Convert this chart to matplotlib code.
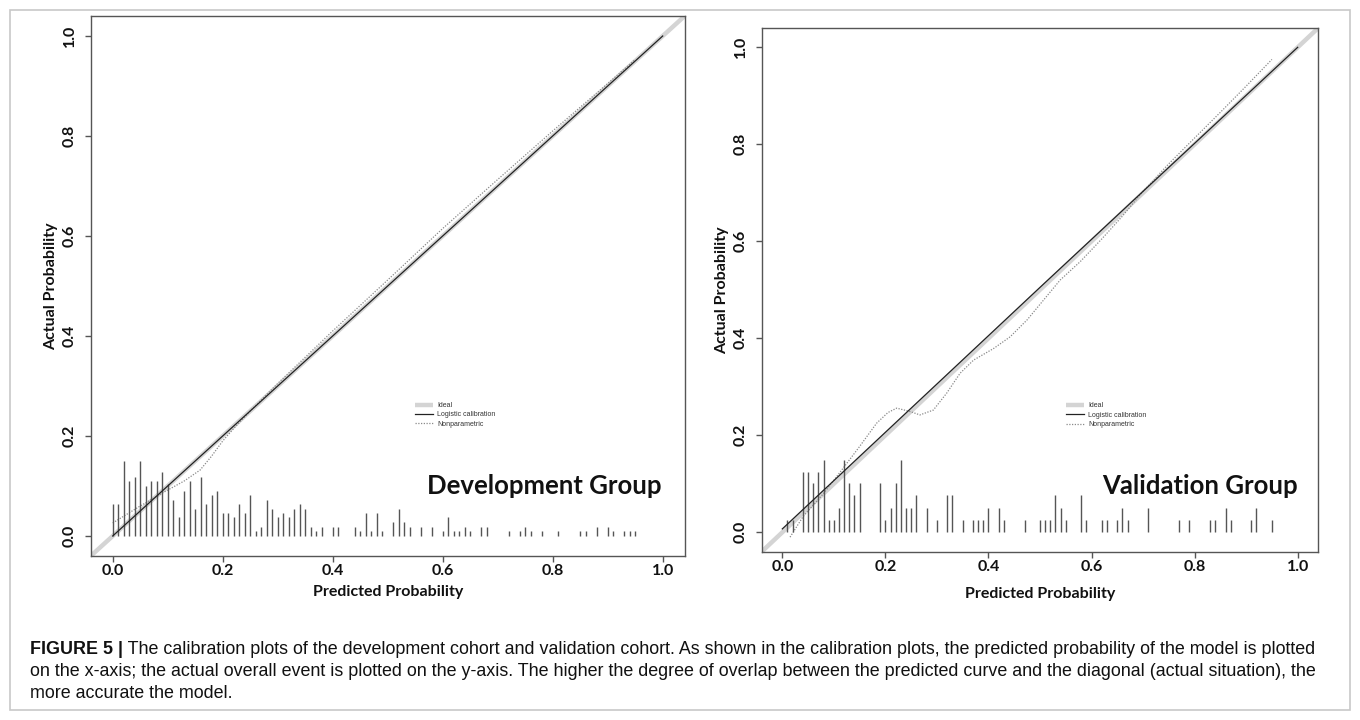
import matplotlib
matplotlib.use("Agg")
import matplotlib.pyplot as plt
from matplotlib import font_manager
from matplotlib.patches import Rectangle

# ---------------- data ----------------
ideal_x = [0.0, 1.0]
ideal_y = [0.0, 1.0]

dev_logistic_x = [0.0, 0.5, 1.0]
dev_logistic_y = [0.0, 0.5, 1.0]
dev_np_x = [0.0, 0.05, 0.092, 0.13, 0.159, 0.18, 0.20, 0.22, 0.25, 0.30, 0.40, 0.50, 0.60, 0.70, 0.80, 0.90, 0.95]
dev_np_y = [0.026, 0.06, 0.087, 0.11, 0.132, 0.16, 0.19, 0.215, 0.25, 0.305, 0.41, 0.512, 0.615, 0.713, 0.81, 0.905, 0.953]
dev_rug_x = [0.00, 0.01, 0.02, 0.03, 0.04, 0.05, 0.06, 0.07, 0.08, 0.09, 0.10, 0.11, 0.12, 0.13, 0.14,
             0.15, 0.16, 0.17, 0.18, 0.19, 0.20, 0.21, 0.22, 0.23, 0.24, 0.25, 0.26, 0.27, 0.28, 0.29,
             0.30, 0.31, 0.32, 0.33, 0.34, 0.35, 0.36, 0.37, 0.38, 0.40, 0.41, 0.44, 0.45, 0.46, 0.47,
             0.48, 0.49, 0.51, 0.52, 0.53, 0.54, 0.56, 0.58, 0.60, 0.61, 0.62, 0.63, 0.64, 0.65, 0.67,
             0.68, 0.72, 0.74, 0.75, 0.76, 0.78, 0.81, 0.85, 0.86, 0.88, 0.90, 0.91, 0.93, 0.94, 0.95]
dev_rug_h = [0.065, 0.065, 0.150, 0.110, 0.119, 0.150, 0.101, 0.110, 0.110, 0.128, 0.105, 0.073, 0.038, 0.091, 0.111,
             0.055, 0.119, 0.065, 0.083, 0.091, 0.046, 0.046, 0.038, 0.065, 0.046, 0.083, 0.010, 0.019, 0.073, 0.055,
             0.038, 0.046, 0.038, 0.055, 0.065, 0.055, 0.019, 0.010, 0.019, 0.019, 0.019, 0.019, 0.010, 0.046, 0.010,
             0.046, 0.010, 0.028, 0.055, 0.028, 0.019, 0.019, 0.019, 0.010, 0.038, 0.010, 0.010, 0.019, 0.010, 0.019,
             0.019, 0.010, 0.010, 0.019, 0.010, 0.010, 0.010, 0.010, 0.010, 0.019, 0.019, 0.010, 0.010, 0.010, 0.010]

val_logistic_x = [0.0, 0.5, 1.0]
val_logistic_y = [0.007, 0.505, 1.0]
val_np_x = [0.015, 0.04, 0.08, 0.115, 0.15, 0.183, 0.205, 0.222, 0.248, 0.267, 0.293, 0.319, 0.345, 0.371,
            0.41, 0.442, 0.475, 0.507, 0.539, 0.578, 0.62, 0.66, 0.70, 0.75, 0.80, 0.85, 0.90, 0.95]
val_np_y = [-0.01, 0.032, 0.08, 0.128, 0.177, 0.225, 0.247, 0.256, 0.249, 0.242, 0.252, 0.287, 0.328, 0.355,
            0.379, 0.403, 0.438, 0.479, 0.52, 0.558, 0.605, 0.652, 0.703, 0.76, 0.813, 0.866, 0.92, 0.975]
val_rug_x = [0.01, 0.02, 0.04, 0.05, 0.06, 0.07, 0.08, 0.09, 0.10, 0.11, 0.12, 0.13, 0.14, 0.15,
             0.19, 0.20, 0.21, 0.22, 0.23, 0.24, 0.25, 0.26, 0.28, 0.30, 0.32, 0.33, 0.35, 0.37,
             0.38, 0.39, 0.40, 0.42, 0.43, 0.47, 0.50, 0.51, 0.52, 0.53, 0.54, 0.55, 0.58, 0.59,
             0.62, 0.63, 0.65, 0.66, 0.67, 0.71, 0.77, 0.79, 0.83, 0.84, 0.86, 0.87, 0.91, 0.92, 0.95]
val_rug_h = [0.025, 0.025, 0.125, 0.125, 0.101, 0.125, 0.150, 0.025, 0.025, 0.051, 0.150, 0.101, 0.076, 0.101,
             0.101, 0.025, 0.051, 0.101, 0.150, 0.051, 0.051, 0.076, 0.051, 0.025, 0.076, 0.076, 0.025, 0.025,
             0.025, 0.025, 0.051, 0.051, 0.025, 0.025, 0.025, 0.025, 0.025, 0.076, 0.051, 0.025, 0.076, 0.025,
             0.025, 0.025, 0.025, 0.051, 0.025, 0.051, 0.025, 0.025, 0.025, 0.025, 0.051, 0.025, 0.025, 0.051, 0.025]

tick_values = [0.0, 0.2, 0.4, 0.6, 0.8, 1.0]
tick_labels = ["0.0", "0.2", "0.4", "0.6", "0.8", "1.0"]
legend_labels = ["Ideal", "Logistic calibration", "Nonparametric"]
xlabel = "Predicted Probability"
ylabel = "Actual Probability"
panel_titles = ["Development Group", "Validation Group"]
caption_bold = "FIGURE 5 |"
caption_lines = [
    " The calibration plots of the development cohort and validation cohort. As shown in the calibration plots, the predicted probability of the model is plotted",
    "on the x-axis; the actual overall event is plotted on the y-axis. The higher the degree of overlap between the predicted curve and the diagonal (actual situation), the",
    "more accurate the model.",
]

# ---------------- fonts ----------------
names = {f.name for f in font_manager.fontManager.ttflist}
label_font = "Lato" if "Lato" in names else "DejaVu Sans"
caption_font = "Liberation Sans" if "Liberation Sans" in names else "DejaVu Sans"

W, H = 1360, 720
fig = plt.figure(figsize=(W / 100, H / 100), dpi=100)

# outer border
fig.patches.append(Rectangle((10 / W, 10 / H), 1 - 20 / W, 1 - 20 / H, transform=fig.transFigure,
                             fill=False, edgecolor="#c8c8c8", linewidth=1.2))

axes_rects = [
    (90.7 / W, 1 - 556 / H, 594 / W, 540 / H),
    (761.7 / W, 1 - 551.7 / H, 556.6 / W, 523.8 / H),
]
panels = [
    (dev_logistic_x, dev_logistic_y, dev_np_x, dev_np_y, dev_rug_x, dev_rug_h, (0.997, 0.10), 5),
    (val_logistic_x, val_logistic_y, val_np_x, val_np_y, val_rug_x, val_rug_h, (1.0, 0.095), 9),
]

for i, (rect, pdata) in enumerate(zip(axes_rects, panels)):
    lx, ly, nx, ny, rx, rh, tpos, xpad = pdata
    ax = fig.add_axes(rect)
    ax.set_xlim(-0.04, 1.04)
    ax.set_ylim(-0.04, 1.04)
    ax.axline((ideal_x[0], ideal_y[0]), (ideal_x[1], ideal_y[1]), color="#d4d4d4", lw=3.2,
              solid_capstyle="butt", label=legend_labels[0], zorder=1)
    ax.plot(lx, ly, color="#222222", lw=0.9, label=legend_labels[1], zorder=3)
    ax.plot(nx, ny, color="#8a8a8a", lw=0.9, linestyle=(0, (1, 1.2)), label=legend_labels[2], zorder=2)
    ax.vlines(rx, 0, rh, color="#555555", lw=1.0, zorder=2)

    for s in ax.spines.values():
        s.set_color("#555555")
        s.set_linewidth(1.0)
    ax.set_xticks(tick_values)
    ax.set_xticklabels(tick_labels)
    ax.set_yticks(tick_values)
    ax.set_yticklabels(tick_labels, rotation=90, va="center")
    ax.tick_params(axis="both", direction="out", length=4, width=1.0, color="#555555",
                   labelsize=11.5, labelcolor="#111111")
    ax.tick_params(axis="x", pad=2)
    ax.tick_params(axis="y", pad=6)
    for lab in ax.get_xticklabels() + ax.get_yticklabels():
        lab.set_fontfamily(label_font)
        lab.set_fontweight("bold")

    ax.set_xlabel(xlabel, fontfamily=label_font, fontweight="bold", fontsize=11.5, labelpad=xpad, color="#111111")
    ax.set_ylabel(ylabel, fontfamily=label_font, fontweight="bold", fontsize=11.5, labelpad=3.5, color="#111111")

    ax.text(tpos[0], tpos[1], panel_titles[i], ha="right", va="center", fontfamily=label_font,
            fontweight="bold", fontsize=18.5, color="#111111")

    leg = ax.legend(loc="upper left", bbox_to_anchor=((0.55 + 0.04) / 1.08, (0.268 + 0.04) / 1.08),
                    frameon=False, handlelength=2.6, handletextpad=0.6,
                    labelspacing=0.35, borderpad=0, borderaxespad=0,
                    prop={"family": caption_font, "size": 5})
    for t in leg.get_texts():
        t.set_color("#333333")

# caption
renderer = fig.canvas.get_renderer()
cap_size = 12.9
x0 = 30 / W
tb = fig.text(x0, 1 - 650 / H, caption_bold, fontfamily=caption_font, fontweight="bold",
              fontsize=cap_size, ha="left", va="center", color="#111111")
bb = tb.get_window_extent(renderer=renderer)
fig.text(bb.x1 / W, 1 - 650 / H, caption_lines[0], fontfamily=caption_font, fontsize=cap_size,
         ha="left", va="center", color="#111111")
fig.text(x0, 1 - 672 / H, caption_lines[1], fontfamily=caption_font, fontsize=cap_size,
         ha="left", va="center", color="#111111")
fig.text(x0, 1 - 694 / H, caption_lines[2], fontfamily=caption_font, fontsize=cap_size,
         ha="left", va="center", color="#111111")

fig.savefig("out.png", dpi=100)
